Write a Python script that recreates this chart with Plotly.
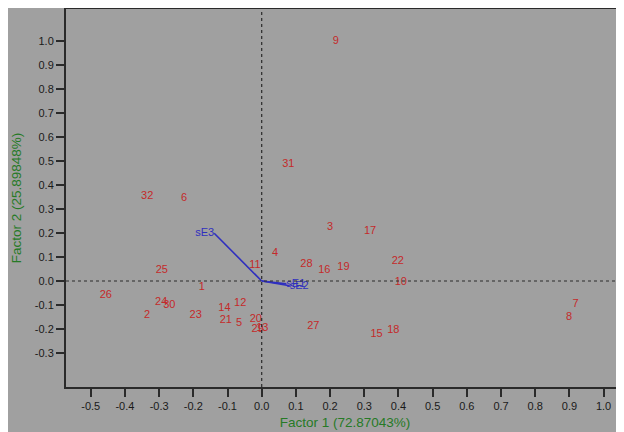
import plotly.graph_objects as go

# Sample scores (Factor 1, Factor 2)
sample_labels = ["1", "2", "3", "4", "5", "6", "7", "8", "9", "10", "11", "12", "13", "14", "15", "16",
                 "17", "18", "19", "20", "21", "22", "23", "24", "25", "26", "27", "28", "29", "30", "31", "32"]
factor1 = [-0.175, -0.335, 0.200, 0.039, -0.066, -0.227, 0.918, 0.899, 0.217, 0.407, -0.020, -0.063, 0.002, -0.109, 0.336, 0.183,
           0.317, 0.385, 0.239, -0.017, -0.105, 0.398, -0.193, -0.294, -0.292, -0.456, 0.151, 0.131, -0.012, -0.270, 0.078, -0.335]
factor2 = [-0.024, -0.143, 0.226, 0.115, -0.174, 0.345, -0.097, -0.149, 1.000, -0.007, 0.067, -0.093, -0.196, -0.115, -0.221, 0.046,
           0.208, -0.207, 0.058, -0.160, -0.165, 0.083, -0.143, -0.090, 0.046, -0.058, -0.188, 0.070, -0.200, -0.100, 0.488, 0.354]

# Variable loadings
var_labels = ["sE3", "sE1", "sE2"]
load_f1 = [-0.139, 0.072, 0.082]
load_f2 = [0.199, -0.012, -0.020]
var_textpos = ["middle left", "middle right", "middle right"]

x_ticks = [-0.5, -0.4, -0.3, -0.2, -0.1, 0.0, 0.1, 0.2, 0.3, 0.4, 0.5, 0.6, 0.7, 0.8, 0.9, 1.0]
y_ticks = [-0.3, -0.2, -0.1, 0.0, 0.1, 0.2, 0.3, 0.4, 0.5, 0.6, 0.7, 0.8, 0.9, 1.0]

GRAY = "#a0a0a0"
RED = "#c42a2a"
BLUE = "#2f2fbf"
GREEN = "#267a26"
FONT = "Liberation Sans, Arial, sans-serif"

fig = go.Figure()

# loading vectors
for name, lx, ly in zip(var_labels, load_f1, load_f2):
    fig.add_trace(go.Scatter(x=[0, lx], y=[0, ly], mode="lines",
                             line=dict(color=BLUE, width=1.6), hoverinfo="skip", showlegend=False))
fig.add_trace(go.Scatter(x=load_f1, y=load_f2, mode="text", text=var_labels,
                         textposition=var_textpos,
                         textfont=dict(color=BLUE, size=11, family=FONT), showlegend=False))

# sample labels
fig.add_trace(go.Scatter(x=factor1, y=factor2, mode="text", text=sample_labels,
                         textposition="middle center",
                         textfont=dict(color=RED, size=11, family=FONT), showlegend=False))

W, H = 616, 424
L, R, T, B = 58, 0, 1, 45

shapes = [
    dict(type="line", xref="x", yref="paper", x0=0, x1=0, y0=0, y1=1,
         line=dict(color="#2a2a2a", width=1.2, dash="dot"), layer="above"),
    dict(type="line", xref="paper", yref="y", x0=0, x1=1, y0=0, y1=0,
         line=dict(color="#2a2a2a", width=1.2, dash="dot"), layer="above"),
]

fig.update_layout(
    width=W, height=H,
    margin=dict(l=L, r=R, t=T, b=B, pad=0, autoexpand=False),
    paper_bgcolor=GRAY, plot_bgcolor=GRAY,
    font=dict(family=FONT, color="#1a1a1a"),
    showlegend=False,
    shapes=shapes,
    xaxis=dict(range=[-0.5724, 1.0597], tickvals=x_ticks, ticktext=[f"{v:.1f}" for v in x_ticks],
               showgrid=False, zeroline=False, showline=True, linecolor="#2a2a2a", linewidth=2,
               mirror=True, ticks="outside", ticklen=8, tickwidth=2, tickcolor="#2a2a2a",
               automargin=False,
               tickfont=dict(size=11, family=FONT, color="#1a1a1a"),
               title=dict(text="Factor 1 (72.87043%)", font=dict(size=13.5, color=GREEN, family=FONT), standoff=6)),
    yaxis=dict(range=[-0.4417, 1.1333], tickvals=y_ticks, ticktext=[f"{v:.1f}" for v in y_ticks],
               showgrid=False, zeroline=False, showline=True, linecolor="#2a2a2a", linewidth=2,
               mirror=False, ticks="outside", ticklen=8, tickwidth=2, tickcolor="#2a2a2a",
               automargin=False,
               tickfont=dict(size=11, family=FONT, color="#1a1a1a"),
               title=dict(text="Factor 2 (25.89848%)", font=dict(size=13.5, color=GREEN, family=FONT), standoff=10)),
)

fig.write_html("out.html")
